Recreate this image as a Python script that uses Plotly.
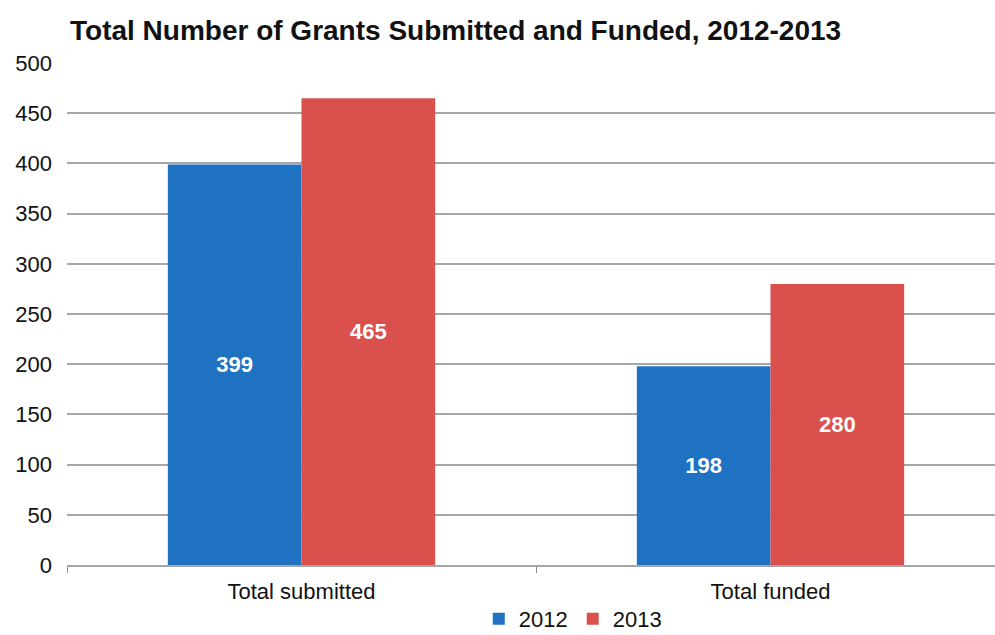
import plotly.graph_objects as go

categories = ["Total submitted", "Total funded"]
years = ["2012", "2013"]
values_2012 = [399, 198]
values_2013 = [465, 280]
colors = ["#1f71c1", "#d9504d"]

fig = go.Figure()
for name, vals, col in zip(years, [values_2012, values_2013], colors):
    fig.add_trace(go.Bar(
        x=categories, y=vals, name=name,
        marker=dict(color=col, line=dict(width=0)),
        text=[str(v) for v in vals], textposition="inside",
        insidetextanchor="middle",
        textfont=dict(family="Liberation Sans, Arial", size=22, color="white", weight="bold"),
    ))

fig.update_layout(
    width=995, height=635,
    margin=dict(l=67, r=0, t=63, b=70, autoexpand=False),
    paper_bgcolor="white", plot_bgcolor="white",
    barmode="group", bargap=0.43, bargroupgap=0,
    title=dict(text="<b>Total Number of Grants Submitted and Funded, 2012-2013</b>",
               x=70/995, xanchor="left", y=1 - 30/635, yanchor="middle",
               font=dict(family="Liberation Sans, Arial", size=28, color="#111111")),
    font=dict(family="Liberation Sans, Arial", color="#111111"),
    legend=dict(orientation="h", x=0.545, xanchor="center",
                yref="container", y=1 - 619/635, yanchor="middle",
                font=dict(size=22), itemwidth=30, traceorder="normal"),
    showlegend=True,
)
fig.update_yaxes(range=[0, 500], dtick=50, showgrid=True, gridcolor="#a6a6a6", gridwidth=1.5,
                 tickfont=dict(size=22), ticklabelstandoff=14, zeroline=False, showline=False)
fig.update_xaxes(range=[-0.5, -0.5 + (995 - 67) / 469], tickfont=dict(size=22),
                 showline=True, linecolor="#a6a6a6", linewidth=1.5, ticklabelstandoff=6,
                 ticks="outside", tickson="boundaries", ticklen=6, tickcolor="#8c8c8c")

fig.write_html("out.html", config={"displayModeBar": False},
               post_script="document.body.style.margin='0';")
